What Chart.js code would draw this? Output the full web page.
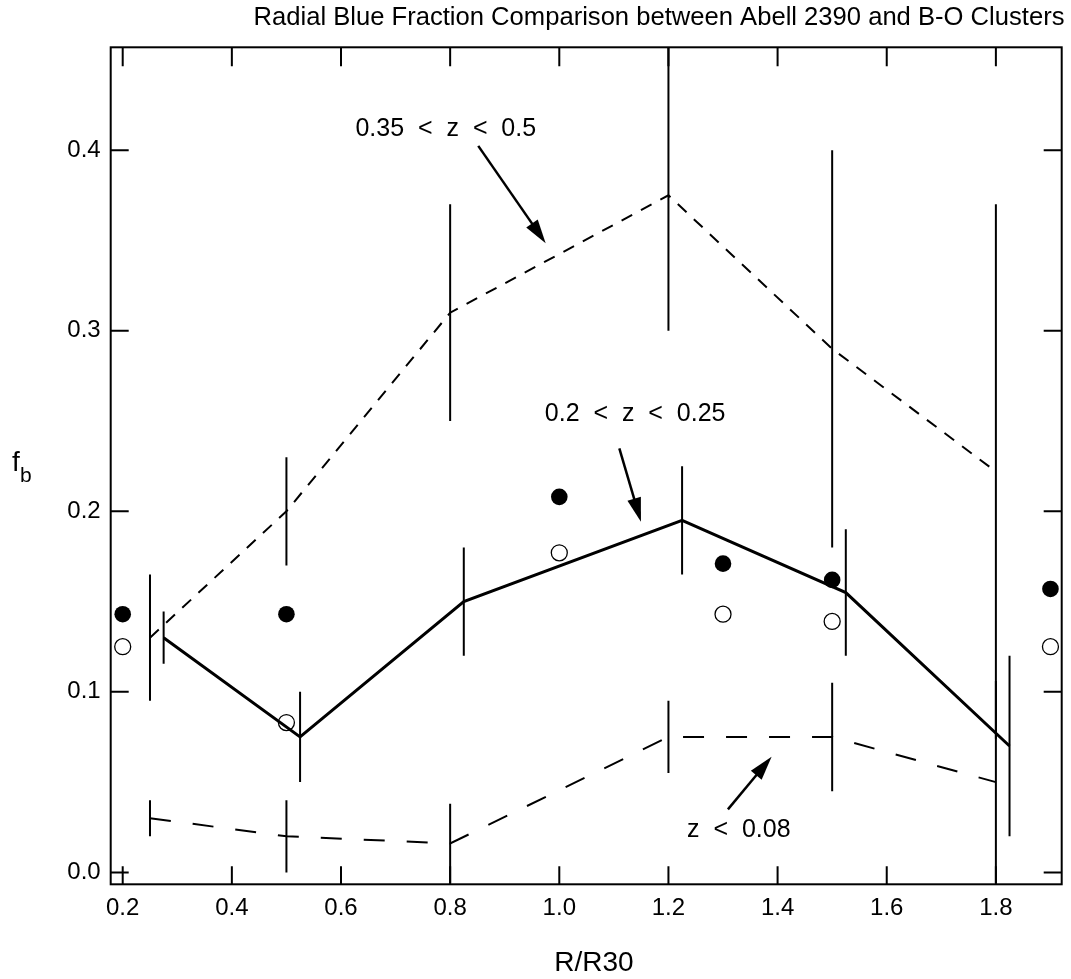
<!DOCTYPE html>
<html>
<head>
<meta charset="utf-8">
<title>Radial Blue Fraction Comparison</title>
<script src="https://cdn.jsdelivr.net/npm/chart.js@4.4.1/dist/chart.umd.min.js"></script>
<style>
  html, body { margin: 0; padding: 0; background: #fff; }
  #wrap { width: 1071px; height: 979px; }
</style>
</head>
<body>
<div id="wrap"><canvas id="fb-chart" width="1071" height="979"></canvas></div>
<script>
(function () {
  const FONT = "'Liberation Sans', Arial, Helvetica, sans-serif";

  const xTicks = [0.2, 0.4, 0.6, 0.8, 1.0, 1.2, 1.4, 1.6, 1.8];
  const yTicks = [0.0, 0.1, 0.2, 0.3, 0.4];

  // Abell 2390
  const abellR = [0.2, 0.5, 1.0, 1.3, 1.5, 1.9];
  const abellFilled = [0.143, 0.143, 0.208, 0.171, 0.162, 0.157];
  const abellOpen = [0.125, 0.083, 0.177, 0.143, 0.139, 0.125];

  // B-O clusters, 0.35 < z < 0.5
  const hiR = [0.25, 0.5, 0.8, 1.2, 1.5, 1.8];
  const hiFb = [0.13, 0.2, 0.31, 0.375, 0.29, 0.222];
  const hiErrDown = [0.035, 0.03, 0.06, 0.075, 0.11, 0.148];
  const hiErrUp = [0.035, 0.03, 0.06, 0.085, 0.11, 0.148];

  // B-O clusters, 0.2 < z < 0.25
  const midR = [0.275, 0.525, 0.825, 1.225, 1.525, 1.825];
  const midFb = [0.13, 0.075, 0.15, 0.195, 0.155, 0.07];
  const midErr = [0.0145, 0.025, 0.03, 0.03, 0.035, 0.05];

  // B-O clusters, z < 0.08
  const lowR = [0.25, 0.5, 0.8, 1.2, 1.5, 1.8];
  const lowFb = [0.03, 0.02, 0.016, 0.075, 0.075, 0.05];
  const lowErr = [0.01, 0.02, 0.022, 0.02, 0.03, 0.056];

  // labels + arrows, in data units
  const notes = [
    { text: '0.35  <  z  <  0.5', x: 0.792, y: 0.408, from: [0.8515, 0.4024], to: [0.975, 0.3485] },
    { text: '0.2  <  z  <  0.25', x: 1.139, y: 0.25, from: [1.110, 0.2349], to: [1.1496, 0.1942] },
    { text: 'z  <  0.08', x: 1.329, y: 0.0197, from: [1.309, 0.0349], to: [1.389, 0.064] }
  ];

  function pts(xs, ys) {
    return xs.map((x, i) => ({ x, y: ys[i] }));
  }

  function drawArrow(ctx, x1, y1, x2, y2) {
    const ang = Math.atan2(y2 - y1, x2 - x1);
    const head = 24, half = 7;
    const bx = x2 - Math.cos(ang) * head, by = y2 - Math.sin(ang) * head;
    ctx.beginPath();
    ctx.moveTo(x1, y1);
    ctx.lineTo(bx + Math.cos(ang) * 2, by + Math.sin(ang) * 2);
    ctx.lineWidth = 2.5;
    ctx.stroke();
    ctx.beginPath();
    ctx.moveTo(x2, y2);
    ctx.lineTo(bx - Math.sin(ang) * half, by + Math.cos(ang) * half);
    ctx.lineTo(bx + Math.sin(ang) * half, by - Math.cos(ang) * half);
    ctx.closePath();
    ctx.fill();
  }

  const errorBars = {
    id: 'errorBars',
    afterDatasetsDraw(chart) {
      const ctx = chart.ctx, xs = chart.scales.x, ys = chart.scales.y, a = chart.chartArea;
      ctx.save();
      ctx.beginPath();
      ctx.rect(a.left, a.top, a.right - a.left, a.bottom - a.top);
      ctx.clip();
      ctx.strokeStyle = '#000';
      ctx.lineWidth = 2;
      chart.data.datasets.forEach(ds => {
        if (!ds.errUp) return;
        ds.data.forEach((p, j) => {
          const px = xs.getPixelForValue(p.x);
          ctx.beginPath();
          ctx.moveTo(px, ys.getPixelForValue(p.y + ds.errUp[j]));
          ctx.lineTo(px, ys.getPixelForValue(p.y - ds.errDown[j]));
          ctx.stroke();
        });
      });
      ctx.restore();
    }
  };

  const frame = {
    id: 'frame',
    afterDraw(chart) {
      const ctx = chart.ctx, xs = chart.scales.x, ys = chart.scales.y, a = chart.chartArea;
      ctx.save();
      ctx.strokeStyle = '#000';
      ctx.fillStyle = '#000';
      ctx.lineWidth = 2;
      ctx.strokeRect(a.left, a.top, a.right - a.left, a.bottom - a.top);
      const tl = 18;
      ctx.beginPath();
      xTicks.forEach(v => {
        const px = xs.getPixelForValue(v);
        ctx.moveTo(px, a.bottom); ctx.lineTo(px, a.bottom - tl);
        ctx.moveTo(px, a.top); ctx.lineTo(px, a.top + tl + 1);
      });
      yTicks.forEach(v => {
        const py = ys.getPixelForValue(v);
        ctx.moveTo(a.left, py); ctx.lineTo(a.left + tl, py);
        ctx.moveTo(a.right, py); ctx.lineTo(a.right - tl, py);
      });
      ctx.stroke();

      // title and axis titles
      ctx.textBaseline = 'alphabetic';
      ctx.textAlign = 'center';
      ctx.font = '25.6px ' + FONT;
      ctx.fillText('Radial Blue Fraction Comparison between Abell 2390 and B-O Clusters', 659, 25);
      ctx.font = '28px ' + FONT;
      ctx.fillText('R/R30', 594, 971);
      ctx.textAlign = 'left';
      ctx.fillText('f', 12, 471);
      ctx.font = '21px ' + FONT;
      ctx.fillText('b', 20, 482);

      // annotations
      ctx.font = '25px ' + FONT;
      notes.forEach(n => {
        ctx.textAlign = 'center';
        ctx.fillText(n.text, xs.getPixelForValue(n.x), ys.getPixelForValue(n.y));
        drawArrow(ctx,
          xs.getPixelForValue(n.from[0]), ys.getPixelForValue(n.from[1]),
          xs.getPixelForValue(n.to[0]), ys.getPixelForValue(n.to[1]));
      });
      ctx.restore();
    }
  };

  const lineStyle = { showLine: true, pointRadius: 0, borderColor: '#000', borderWidth: 2, fill: false, tension: 0 };

  new Chart(document.getElementById('fb-chart'), {
    type: 'scatter',
    data: {
      datasets: [
        Object.assign({ label: '0.35 < z < 0.5', data: pts(hiR, hiFb), borderDash: [12, 10], errUp: hiErrUp, errDown: hiErrDown }, lineStyle),
        Object.assign({ label: 'z < 0.08', data: pts(lowR, lowFb), borderDash: [21, 22], errUp: lowErr, errDown: lowErr }, lineStyle),
        Object.assign({}, lineStyle, { label: '0.2 < z < 0.25', data: pts(midR, midFb), borderWidth: 3, errUp: midErr, errDown: midErr }),
        {
          label: 'Abell 2390 (filled)', data: pts(abellR, abellFilled),
          pointRadius: 8.3, pointBackgroundColor: '#000', pointBorderColor: '#000', pointBorderWidth: 0
        },
        {
          label: 'Abell 2390 (open)', data: pts(abellR, abellOpen),
          pointRadius: 8, pointBackgroundColor: 'rgba(0,0,0,0)', pointBorderColor: '#000', pointBorderWidth: 1.3
        }
      ]
    },
    options: {
      responsive: false,
      animation: false,
      events: [],
      layout: { padding: { top: 47.3, right: 2, left: 0, bottom: 0 } },
      plugins: { legend: { display: false }, tooltip: { enabled: false }, title: { display: false } },
      scales: {
        x: {
          type: 'linear', min: 0.178, max: 1.9206,
          grid: { display: false, drawTicks: false }, border: { display: false },
          afterBuildTicks: s => { s.ticks = xTicks.map(v => ({ value: v })); },
          afterFit: s => { s.height = 94.7; },
          ticks: { color: '#000', padding: 10, maxRotation: 0, autoSkip: false, font: { family: FONT, size: 24 }, callback: v => v.toFixed(1) }
        },
        y: {
          type: 'linear', min: -0.0066, max: 0.457,
          grid: { display: false, drawTicks: false }, border: { display: false },
          afterBuildTicks: s => { s.ticks = yTicks.map(v => ({ value: v })); },
          afterFit: s => { s.width = 110.7; },
          ticks: { color: '#000', padding: 10, autoSkip: false, font: { family: FONT, size: 24 }, callback: v => v.toFixed(1) }
        }
      }
    },
    plugins: [errorBars, frame]
  });
})();
</script>
</body>
</html>
